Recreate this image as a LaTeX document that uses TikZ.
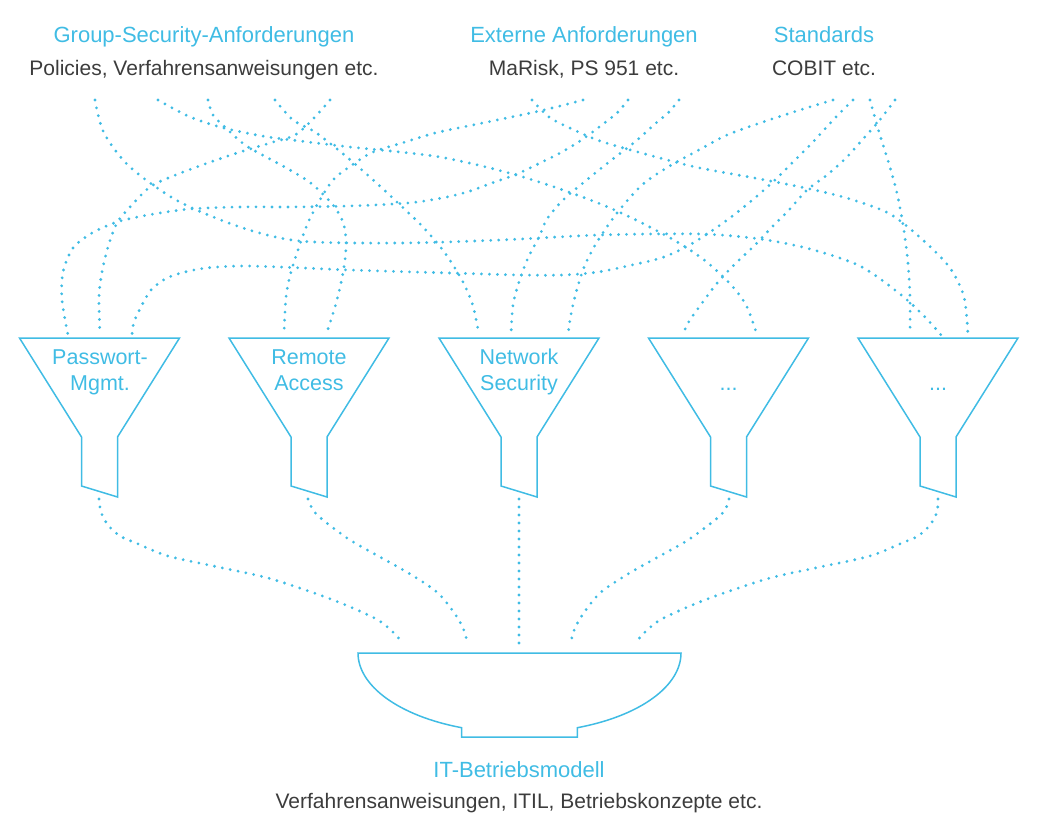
\documentclass[tikz,border=0pt]{standalone}
\usepackage{fontspec}
\setmainfont{Liberation Sans}
\definecolor{cy}{RGB}{64,188,228}
\definecolor{tx}{RGB}{60,60,60}
\tikzset{
  dots/.style={draw=cy, line width=3.1pt, line cap=round, dash pattern=on 0pt off 8pt},
  shapeline/.style={draw=cy, line width=1.5pt, line join=miter},
  title/.style={text=cy, font=\fontsize{22}{26}\selectfont, anchor=base, inner sep=0pt},
  sub/.style={text=tx, font=\fontsize{21}{25}\selectfont, anchor=base, inner sep=0pt},
  flabel/.style={text=cy, font=\fontsize{21.5}{25}\selectfont, anchor=base, inner sep=0pt},
  funnel/.pic={
    \draw[shapeline] (-80,0) -- (80,0) -- (18,99) -- (18,159) -- (-18,148) -- (-18,99) -- cycle;
  },
}
\begin{document}
\begin{tikzpicture}[x=1pt,y=-1pt]
\useasboundingbox (0,0) rectangle (1038,832);

% top labels
\node[title] (g1) at (204,43) {Group-Security-Anforderungen};
\node[sub]   (g2) at (204,76) {Policies, Verfahrensanweisungen etc.};
\node[title] (e1) at (584,43) {Externe Anforderungen};
\node[sub]   (e2) at (584,76) {MaRisk, PS 951 etc.};
\node[title] (s1) at (824,43) {Standards};
\node[sub]   (s2) at (824,76) {COBIT etc.};

% funnels
\foreach \i/\cx in {1/99.5,2/309,3/519,4/728.5,5/938}{
  \pic at (\cx,338) {funnel};
}
\node[flabel] (f1a) at (100,364) {Passwort-};
\node[flabel] (f1b) at (100,390) {Mgmt.};
\node[flabel] (f2a) at (309,364) {Remote};
\node[flabel] (f2b) at (309,390) {Access};
\node[flabel] (f3a) at (519,364) {Network};
\node[flabel] (f3b) at (519,390) {Security};
\node[flabel] (f4a) at (728.5,390) {...};
\node[flabel] (f5a) at (938,390) {...};

% bowl
\draw[shapeline] (358,653) -- (681,653) .. controls (681,686) and (640,716) .. (577.3,727.7)
  -- (577.3,737) -- (461.7,737) -- (461.7,727.7) .. controls (399.3,716) and (358,686) .. cycle;
\node[title] (it1) at (519,777) {IT-Betriebsmodell};
\node[sub]   (it2) at (519,808) {Verfahrensanweisungen, ITIL, Betriebskonzepte etc.};

% connector end points
\coordinate (t1) at (95,100);  \coordinate (t2) at (158,100); \coordinate (t3) at (208,100);
\coordinate (t4) at (275,100); \coordinate (t5) at (330,100); \coordinate (t6) at (532,100);
\coordinate (t7) at (583,100); \coordinate (t8) at (628,100); \coordinate (t9) at (679,100);
\coordinate (t10) at (833,100); \coordinate (t11) at (853,100); \coordinate (t12) at (870,100);
\coordinate (t13) at (895,100);
\coordinate (b1) at (68,335);  \coordinate (b2) at (100,335); \coordinate (b3) at (132,335);
\coordinate (b4) at (284,335); \coordinate (b5) at (326,335);
\coordinate (b6) at (479,335); \coordinate (b7) at (511,335); \coordinate (b8) at (568,335);
\coordinate (b9) at (683,335); \coordinate (b10) at (757,335);
\coordinate (b11) at (910,335); \coordinate (b12) at (941,335); \coordinate (b13) at (968,335);
\coordinate (o1) at (99,499); \coordinate (o2) at (308,499); \coordinate (o3) at (519,499);
\coordinate (o4) at (729,499); \coordinate (o5) at (938,499);
\coordinate (i1) at (403,644); \coordinate (i2) at (467,644); \coordinate (i3) at (519,644);
\coordinate (i4) at (571,644); \coordinate (i5) at (635,644);

% upper connectors
\draw[dots] plot[smooth] coordinates {(t1) (104,133) (130,167) (178,201) (240,227) (300,241) (400,243) (500,240) (600,235) (700,234) (760,239) (810,249) (860,266) (900,294) (925,317) (b12)};
\draw[dots] plot[smooth] coordinates {(t2) (188,116) (220,127) (262,136) (300,141) (350,147) (400,152) (440,157) (482,166) (523,177) (563,190) (603,205) (640,222) (679,243) (708,263) (733,287) (747,307) (b10)};
\draw[dots] plot[smooth] coordinates {(t3) (213,115) (227,129) (245,145) (268,158) (290,170) (312,184) (333,205) (343,222) (346,240) (345,260) (341,283) (335,307) (b5)};
\draw[dots] plot[smooth] coordinates {(t4) (293,120) (315,132) (342,153) (371,178) (398,203) (423,227) (445,253) (463,282) (473,306) (b6)};
\draw[dots] plot[smooth] coordinates {(t5) (313,119) (295,135) (270,143) (237,153) (205,164) (173,176) (150,187) (130,207) (117,223) (108,247) (102,272) (99,297) (b2)};
\draw[dots] plot[smooth] coordinates {(t6) (549,117) (572,129) (603,142) (660,158) (700,168) (760,179) (810,189) (850,199) (890,214) (924,241) (950,268) (964,297) (b13)};
\draw[dots] plot[smooth] coordinates {(t7) (560,106) (535,112) (502,119) (468,126) (435,133) (402,143) (373,152) (352,165) (333,180) (317,205) (307,225) (299,247) (291,272) (286,297) (b4)};
\draw[dots] plot[smooth] coordinates {(t8) (617,113) (603,124) (583,139) (562,152) (540,163) (517,174) (492,183) (467,192) (442,198) (408,203) (350,206) (290,207) (240,207) (190,209) (148,215) (117,222) (92,233) (73,248) (63,272) (62,300) (b1)};
\draw[dots] plot[smooth] coordinates {(t9) (668,113) (656,123) (636,141) (609,162) (583,183) (563,200) (547,219) (539,237) (528,258) (519,282) (513,305) (b7)};
\draw[dots] plot[smooth] coordinates {(t10) (800,110) (760,123) (727,135) (697,151) (668,167) (642,185) (617,213) (597,242) (585,265) (577,289) (571,314) (b8)};
\draw[dots] plot[smooth] coordinates {(t11) (835,118) (812,143) (793,162) (775,180) (750,202) (723,223) (693,243) (664,257) (632,265) (598,272) (563,275) (520,275) (450,273) (350,270) (280,267) (240,266) (206,268) (181,273) (165,279) (151,290) (142,305) (134,322) (b3)};
\draw[dots] plot[smooth] coordinates {(t12) (879,132) (889,164) (896,189) (901,213) (905,238) (908,263) (910,297) (b11)};
\draw[dots] plot[smooth] coordinates {(t13) (879,121) (863,139) (846,158) (827,175) (807,190) (789,210) (772,227) (755,245) (735,264) (718,282) (702,303) (688,323) (b9)};

% lower connectors
\draw[dots] plot[smooth] coordinates {(o1) (101,512) (108,525) (120,536) (136,543) (168,556) (218,567) (268,578) (317,594) (348,606) (378,620) (395,634) (i1)};
\draw[dots] plot[smooth] coordinates {(o2) (313,510) (323,520) (350,540) (380,557) (410,574) (438,593) (457,617) (465,633) (i2)};
\draw[dots] (o3) -- (i3);
\draw[dots] plot[smooth] coordinates {(o4) (725,510) (715,520) (688,540) (658,557) (628,574) (600,593) (581,617) (573,633) (i4)};
\draw[dots] plot[smooth] coordinates {(o5) (937,512) (930,525) (918,536) (902,543) (870,556) (820,567) (770,578) (721,594) (690,606) (660,620) (643,634) (i5)};
\end{tikzpicture}
\end{document}
